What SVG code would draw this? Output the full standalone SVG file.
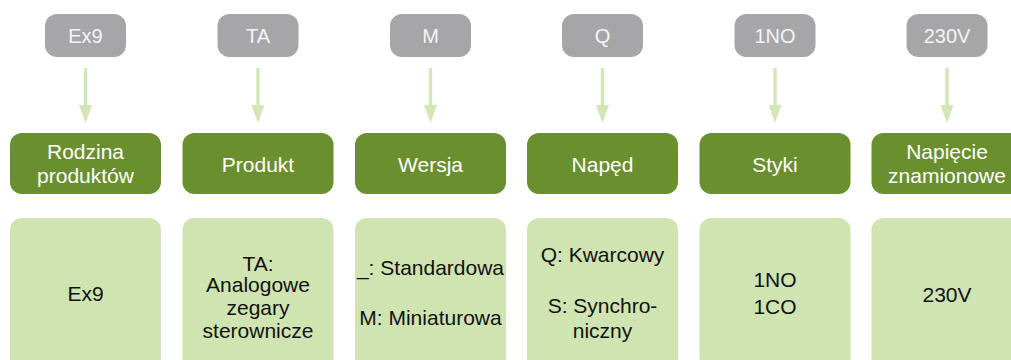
<svg xmlns="http://www.w3.org/2000/svg" width="1011" height="360" viewBox="0 0 1011 360">
  <defs>
    <style>
      text { font-family: "Liberation Sans", Arial, sans-serif; font-size: 21px; text-anchor: middle; }
      .code rect { fill: #a6a6a8; }
      .code text { fill: #f4f4f4; font-size: 20px; }
      .head rect { fill: #6a8f2e; }
      .head text { fill: #ffffff; }
      .val rect { fill: #d0e4b1; }
      .val text { fill: #111111; }
      .shaft { stroke: #d3e7b6; stroke-width: 3.4; fill: none; }
      .tip { fill: #d3e7b6; }
    </style>
  </defs>
  <rect width="1011" height="360" fill="#ffffff"/>

  <!-- connectors: code -> heading -->
  <g id="connectors">
    <g transform="translate(85.5,0)"><line class="shaft" x1="0" y1="68" x2="0" y2="106"/><polygon class="tip" points="-6.5,105 6.5,105 0,123"/></g>
    <g transform="translate(258,0)"><line class="shaft" x1="0" y1="68" x2="0" y2="106"/><polygon class="tip" points="-6.5,105 6.5,105 0,123"/></g>
    <g transform="translate(430.5,0)"><line class="shaft" x1="0" y1="68" x2="0" y2="106"/><polygon class="tip" points="-6.5,105 6.5,105 0,123"/></g>
    <g transform="translate(602.5,0)"><line class="shaft" x1="0" y1="68" x2="0" y2="106"/><polygon class="tip" points="-6.5,105 6.5,105 0,123"/></g>
    <g transform="translate(775,0)"><line class="shaft" x1="0" y1="68" x2="0" y2="106"/><polygon class="tip" points="-6.5,105 6.5,105 0,123"/></g>
    <g transform="translate(947,0)"><line class="shaft" x1="0" y1="68" x2="0" y2="106"/><polygon class="tip" points="-6.5,105 6.5,105 0,123"/></g>
  </g>

  <!-- column 1 -->
  <g id="code-ex9" class="code"><rect x="45" y="14" width="81" height="43" rx="12"/><text x="85.5" y="43">Ex9</text></g>
  <g id="head-rodzina" class="head"><rect x="10" y="133" width="151" height="61" rx="12"/><text x="85.5" y="159">Rodzina</text><text x="85.5" y="183">produktów</text></g>
  <g id="val-ex9" class="val"><rect x="10" y="218" width="151" height="152" rx="12"/><text x="85.5" y="301">Ex9</text></g>

  <!-- column 2 -->
  <g id="code-ta" class="code"><rect x="217.5" y="14" width="81" height="43" rx="12"/><text x="258" y="43">TA</text></g>
  <g id="head-produkt" class="head"><rect x="182.5" y="133" width="151" height="61" rx="12"/><text x="258" y="171.5">Produkt</text></g>
  <g id="val-ta" class="val"><rect x="182.5" y="218" width="151" height="152" rx="12"/>
    <text x="258" y="270.5">TA:</text><text x="258" y="292">Analogowe</text><text x="258" y="315">zegary</text><text x="258" y="338">sterownicze</text></g>

  <!-- column 3 -->
  <g id="code-m" class="code"><rect x="390" y="14" width="81" height="43" rx="12"/><text x="430.5" y="43">M</text></g>
  <g id="head-wersja" class="head"><rect x="355" y="133" width="151" height="61" rx="12"/><text x="430.5" y="171.5">Wersja</text></g>
  <g id="val-m" class="val"><rect x="355" y="218" width="151" height="152" rx="12"/>
    <text x="430.5" y="275">_: Standardowa</text><text x="430.5" y="325">M: Miniaturowa</text></g>

  <!-- column 4 -->
  <g id="code-q" class="code"><rect x="562" y="14" width="81" height="43" rx="12"/><text x="602.5" y="43">Q</text></g>
  <g id="head-naped" class="head"><rect x="527" y="133" width="151" height="61" rx="12"/><text x="602.5" y="171.5">Napęd</text></g>
  <g id="val-q" class="val"><rect x="527" y="218" width="151" height="152" rx="12"/>
    <text x="602.5" y="262">Q: Kwarcowy</text><text x="602.5" y="313">S: Synchro-</text><text x="602.5" y="338">niczny</text></g>

  <!-- column 5 -->
  <g id="code-1no" class="code"><rect x="734.5" y="14" width="81" height="43" rx="12"/><text x="775" y="43">1NO</text></g>
  <g id="head-styki" class="head"><rect x="699.5" y="133" width="151" height="61" rx="12"/><text x="775" y="171.5">Styki</text></g>
  <g id="val-1no" class="val"><rect x="699.5" y="218" width="151" height="152" rx="12"/>
    <text x="775" y="287">1NO</text><text x="775" y="313.5">1CO</text></g>

  <!-- column 6 -->
  <g id="code-230v" class="code"><rect x="906.5" y="14" width="81" height="43" rx="12"/><text x="947" y="43">230V</text></g>
  <g id="head-napiecie" class="head"><rect x="871.5" y="133" width="151" height="61" rx="12"/><text x="947" y="159">Napięcie</text><text x="947" y="183">znamionowe</text></g>
  <g id="val-230v" class="val"><rect x="871.5" y="218" width="151" height="152" rx="12"/><text x="947" y="301.5">230V</text></g>
</svg>
